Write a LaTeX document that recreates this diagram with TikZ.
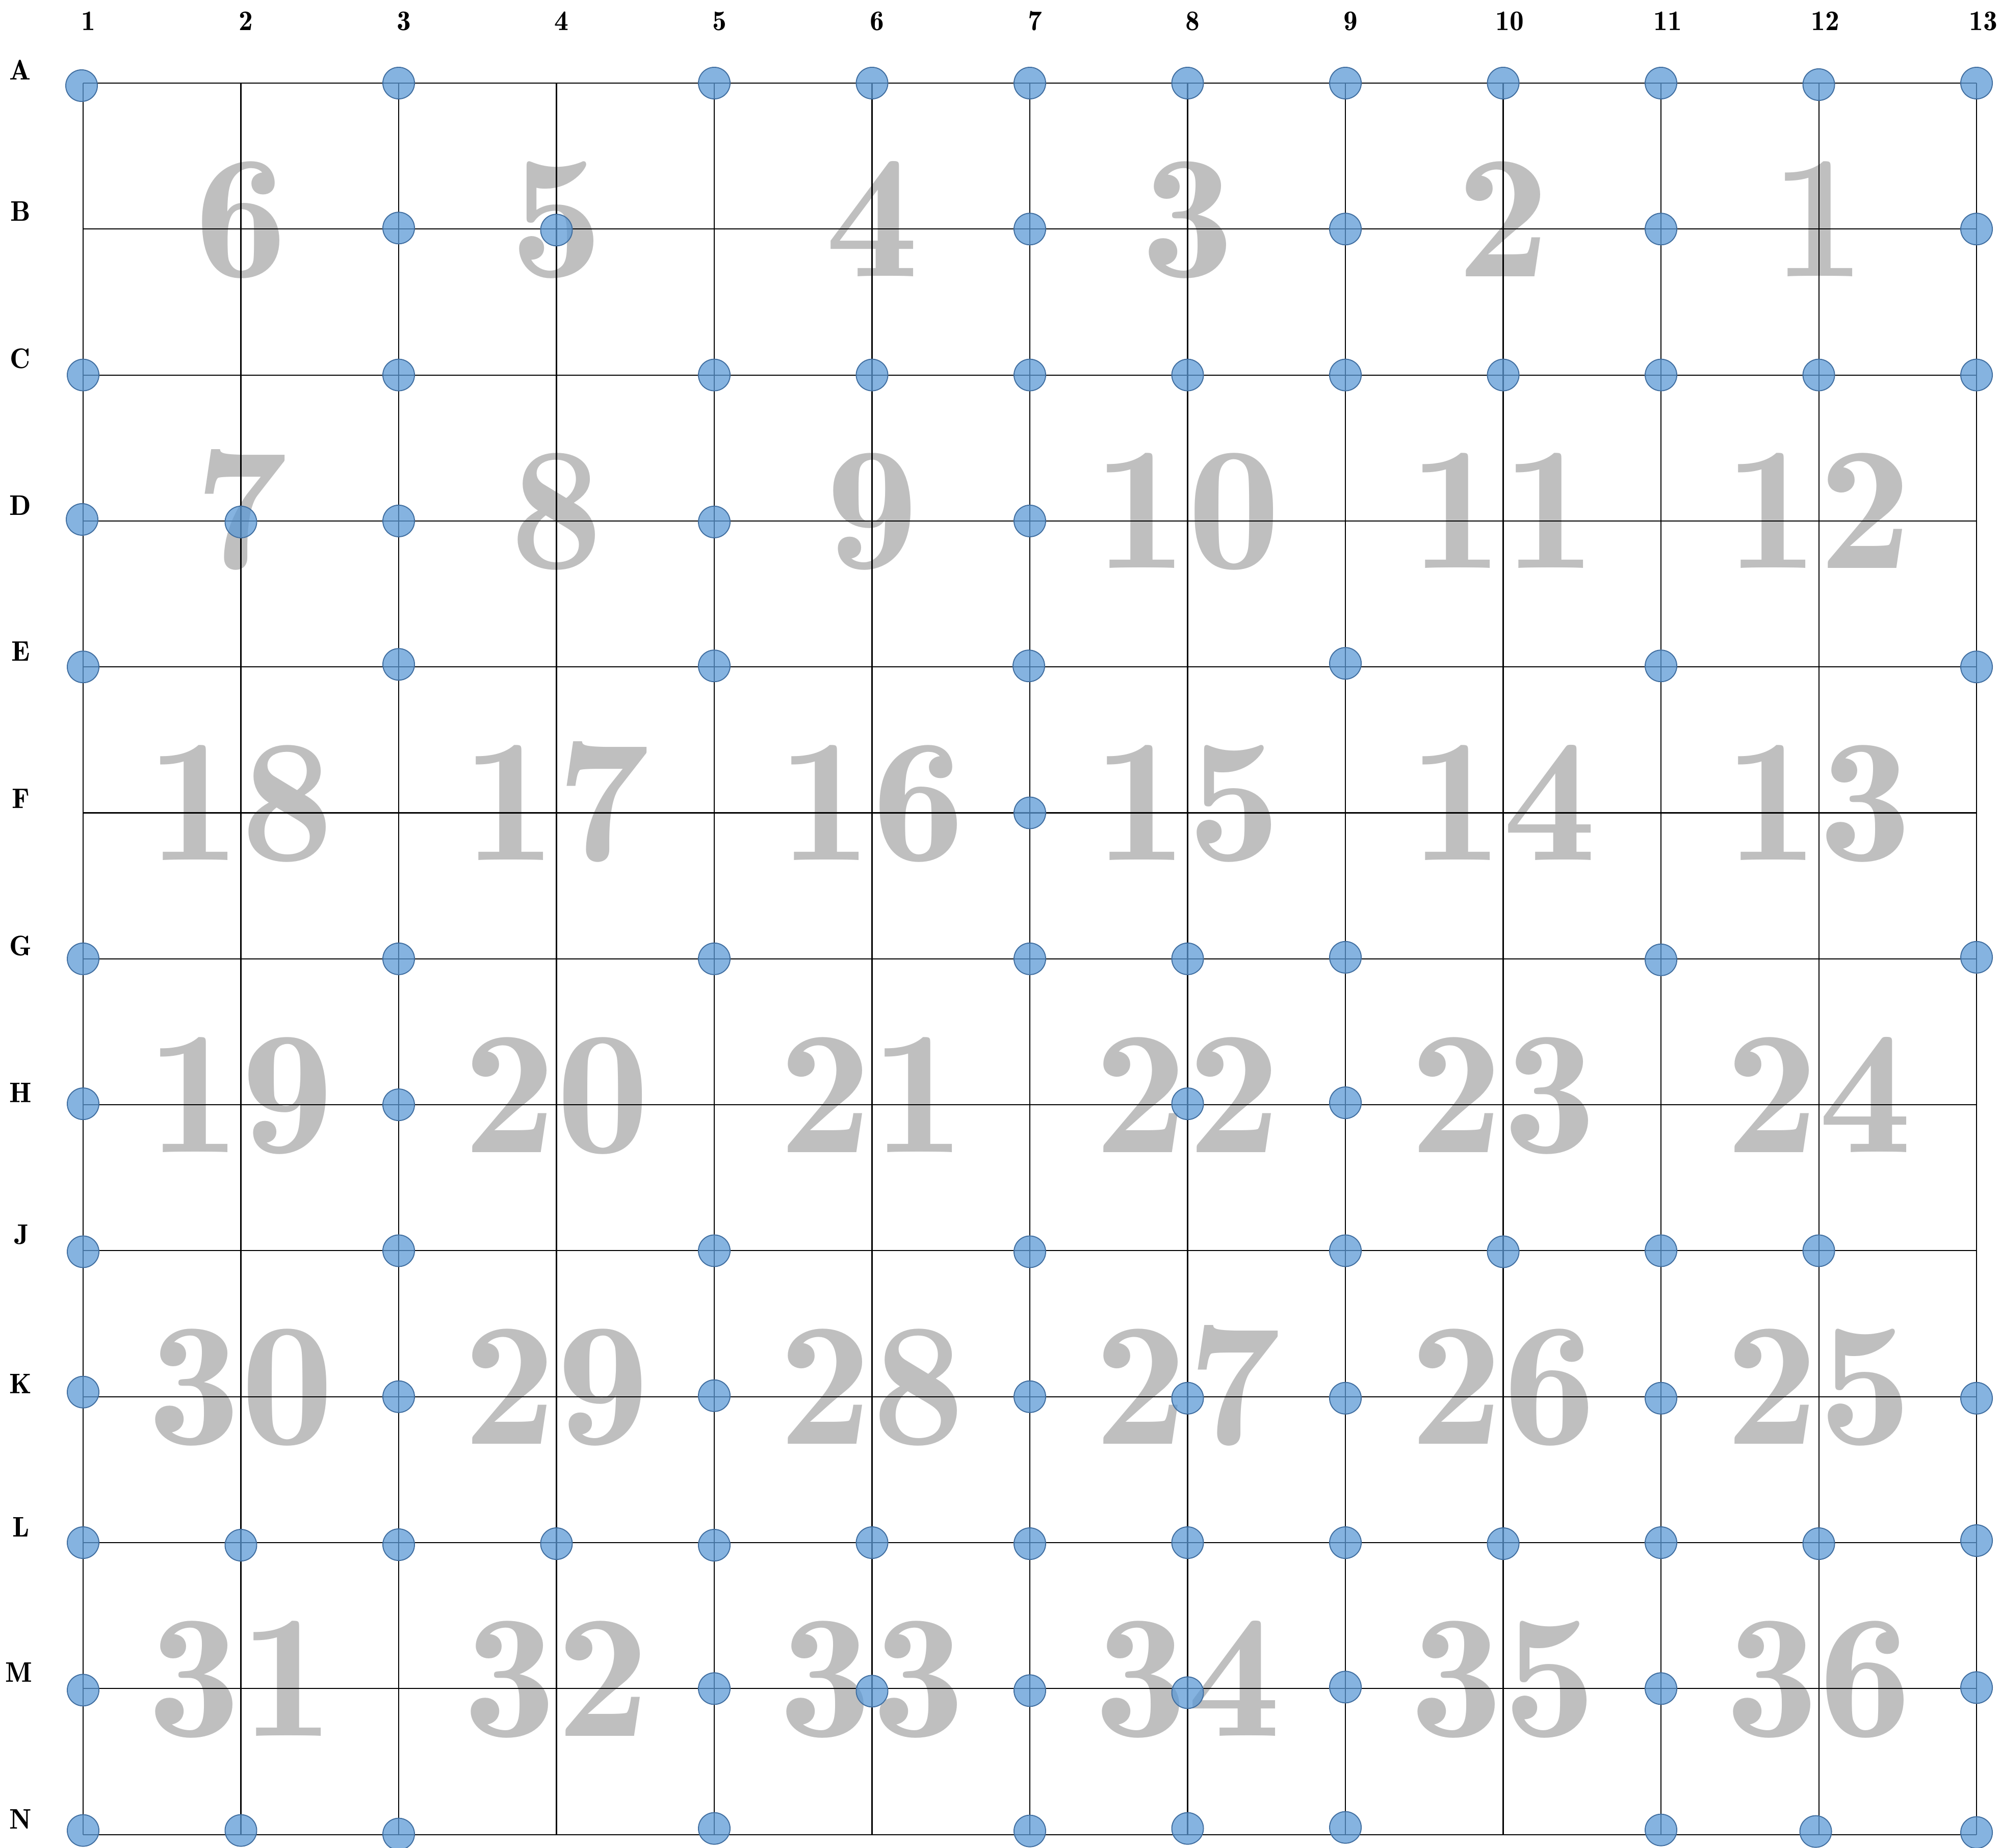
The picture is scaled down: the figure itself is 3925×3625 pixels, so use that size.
\documentclass[tikz,border=0pt]{standalone}
\usetikzlibrary{calc}
\definecolor{numgray}{RGB}{191,191,191}
\definecolor{dotfill}{RGB}{92,153,213}
\definecolor{dotedge}{RGB}{64,110,160}
\newcommand\wide[1]{\scalebox{1.06}[1]{#1}}
\begin{document}
\begin{tikzpicture}[x=0.01cm,y=-0.01cm,
  gridline/.style={black,line width=0.6pt},
  bignum/.style={text=numgray,inner sep=0pt,anchor=base,
    font=\fontsize{98}{98}\fontseries{b}\selectfont},
  lab/.style={text=black,inner sep=0pt,anchor=base,
    font=\fontsize{15.8}{16}\fontseries{b}\selectfont},
  dot/.style={circle,minimum size=0.62cm,inner sep=0pt,fill=dotfill,
    fill opacity=0.75,draw=dotedge,line width=0.55pt}]
\useasboundingbox (0,0) rectangle (3925,3625);
% grid points
\foreach \r [count=\j] in {A,B,C,D,E,F,G,H,J,K,L,M,N} {
  \foreach \c in {1,...,13} {
    \coordinate (p\r\c) at ({163+309.5*(\c-1)},{163+286.3*(\j-1)});
  }
}
% big cell numbers
\foreach \r/\list in {B/{6,5,4,3,2,1},D/{7,8,9,10,11,12},F/{18,17,16,15,14,13},
    H/{19,20,21,22,23,24},K/{30,29,28,27,26,25},M/{31,32,33,34,35,36}} {
  \foreach \n [count=\k] in \list {
    \pgfmathtruncatemacro\cc{2*\k}
    \node[bignum] (n\n) at ($(p\r\cc)+(0,93)$) {\wide{\n}};
  }
}
% grid lines
\foreach \r in {A,B,C,D,E,F,G,H,J,K,L,M,N}
  \draw[gridline] (p\r1) -- (p\r13);
\foreach \c in {1,...,13}
  \draw[gridline] (pA\c) -- (pN\c);
% dots
\foreach \c/\r/\dx/\dy in {
  1/A/-3/5,3/A/0/0,5/A/0/0,6/A/0/0,7/A/0/0,8/A/0/0,9/A/0/0,10/A/0/0,11/A/0/0,12/A/0/3,13/A/0/0,
  3/B/0/-2,4/B/0/2,7/B/0/0,9/B/0/0,11/B/0/0,13/B/0/0,
  1/C/0/0,3/C/0/0,5/C/0/0,6/C/0/0,7/C/0/0,8/C/0/0,9/C/0/0,10/C/0/0,11/C/0/0,12/C/0/0,13/C/0/0,
  1/D/-2/-3,2/D/0/2,3/D/0/0,5/D/0/2,7/D/0/0,
  1/E/0/0,3/E/0/-5,5/E/0/-2,7/E/-2/-2,9/E/0/-7,11/E/0/-2,13/E/0/0,
  7/F/0/0,
  1/G/0/0,3/G/0/0,5/G/0/0,7/G/0/0,8/G/0/0,9/G/0/-3,11/G/0/2,13/G/0/-3,
  1/H/0/-2,3/H/0/0,8/H/0/-2,9/H/0/-4,
  1/J/0/2,3/J/0/0,5/J/0/0,7/J/0/2,9/J/0/0,10/J/0/2,11/J/0/0,12/J/0/0,
  1/K/0/-9,3/K/0/0,5/K/0/-2,7/K/0/0,8/K/0/3,9/K/0/3,11/K/0/3,13/K/0/3,
  1/L/0/0,2/L/0/5,3/L/0/4,4/L/0/2,5/L/0/5,6/L/0/0,7/L/0/2,8/L/0/0,9/L/0/0,10/L/0/2,11/L/0/0,12/L/0/2,13/L/0/-4,
  1/M/0/3,5/M/0/0,6/M/0/5,7/M/0/4,8/M/0/8,9/M/0/-3,11/M/0/0,13/M/0/-2,
  1/N/0/-8,2/N/0/-8,3/N/0/-1,5/N/0/-12,7/N/0/-7,8/N/0/-12,9/N/0/-14,11/N/0/-9,12/N/-6/-6,13/N/0/-4}
  \node[dot] (d\r\c) at ($(p\r\c)+(\dx,\dy)$) {};
% column labels
\foreach \c in {1,...,9}
  \node[lab] (col\c) at ($(pA\c)+(10,-103)$) {\c};
\foreach \c in {10,...,13}
  \node[lab] (col\c) at ($(pA\c)+(13,-103)$) {\c};
% row labels
\foreach \r/\dy/\xx in {A/-25/40,B/-35/40,C/-32/40,D/-30/40,E/-31/41,F/-28/41,G/-25/40,
    H/-24/40,J/-32/43,K/-25/40,L/-31/41,M/-32/37,N/-30/40}
  \node[lab] (row\r) at ($(p\r1)+({\xx-163},{\dy+19})$) {\r};
\end{tikzpicture}
\end{document}
